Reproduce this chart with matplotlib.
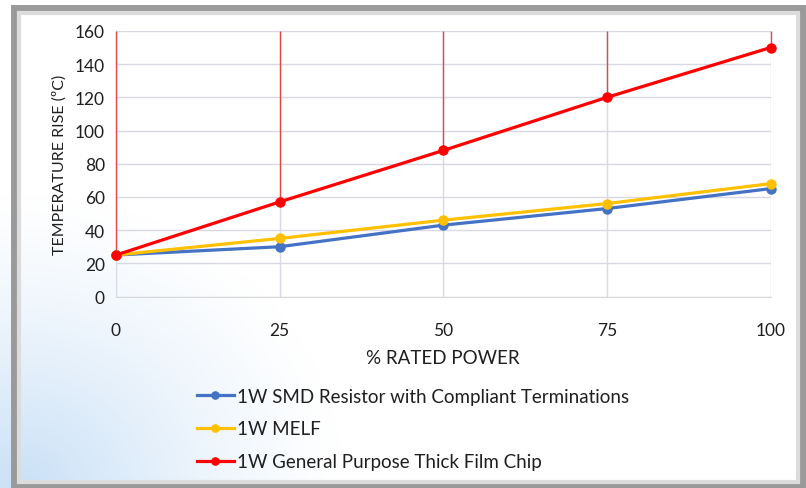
import matplotlib.pyplot as plt
import numpy as np
from matplotlib.patches import Rectangle

# datos
potencia = [0, 25, 50, 75, 100]
smd = [25, 30, 43, 53, 65]
melf = [25, 35, 46, 56, 68]
chip = [25, 57, 88, 120, 150]
nombres = ["1W SMD Resistor with Compliant Terminations",
           "1W MELF",
           "1W General Purpose Thick Film Chip"]
colores = ["#4472C4", "#FFC000", "#FF0000"]

plt.rcParams['font.family'] = ['Lato', 'DejaVu Sans']

fig = plt.figure(figsize=(8.06, 4.89), dpi=100)

# fondo: marco gris y degradado azul abajo a la izquierda
bg = fig.add_axes([0, 0, 1, 1], zorder=-5)
bg.set_xlim(0, 806)
bg.set_ylim(489, 0)
bg.axis('off')
yy, xx = np.mgrid[0:489, 0:806]
d = np.sqrt(((xx - 20) / 330.0) ** 2 + ((yy - 489) / 300.0) ** 2)
a = np.clip(1 - d, 0, 1) ** 1.3 * 0.75
img = np.zeros((489, 806, 4))
img[..., 0] = 0.72
img[..., 1] = 0.84
img[..., 2] = 0.96
img[..., 3] = a
bg.add_patch(Rectangle((0, 0), 806, 489, color='white', zorder=0))
bg.imshow(img, extent=(0, 806, 489, 0), zorder=1, aspect='auto')
bg.add_patch(Rectangle((14, 9), 789, 478, fill=False, ec='#9a9a9a', lw=5, zorder=2))
bg.add_patch(Rectangle((19, 14), 779, 469, fill=False, ec='#dcdcdc', lw=3, zorder=2))

ax = fig.add_axes([0.1439, 0.3916, 0.8121, 0.543])
ax.set_facecolor('none')
ax.set_xlim(0, 100)
ax.set_ylim(0, 160)
ax.set_xticks(potencia)
ax.set_yticks(np.arange(0, 161, 20))
ax.grid(True, color='#d9d9e6', lw=1, zorder=0.5)
ax.set_axisbelow(True)
for s in ['top', 'right', 'left']:
    ax.spines[s].set_visible(False)
ax.spines['bottom'].set_color('#d9d9d9')
ax.tick_params(length=0, labelsize=12.5, colors='#1f1f1f', pad=8)
ax.tick_params(axis='x', pad=18)

# lineas rojas desde el punto hasta arriba
ax.vlines(potencia, chip, 160, color='#e04848', lw=1, zorder=2, clip_on=False)

for serie, nom, col in zip([smd, melf, chip], nombres, colores):
    ax.plot(potencia, serie, color=col, lw=2.3, marker='o', ms=6.5,
            label=nom, zorder=3, clip_on=False)

ax.set_ylabel("TEMPERATURE RISE (ºC)", fontsize=11.5, color='#1f1f1f', labelpad=6)
ax.set_xlabel("% RATED POWER", fontsize=13.5, color='#1f1f1f', labelpad=8)

fig.legend(loc='upper left', bbox_to_anchor=(0.223, 0.24), frameon=False,
           fontsize=13.5, handlelength=2.0, handletextpad=0.15, labelspacing=0.85,
           labelcolor='#1f1f1f', markerscale=0.8)

fig.savefig('out.png', dpi=100)
